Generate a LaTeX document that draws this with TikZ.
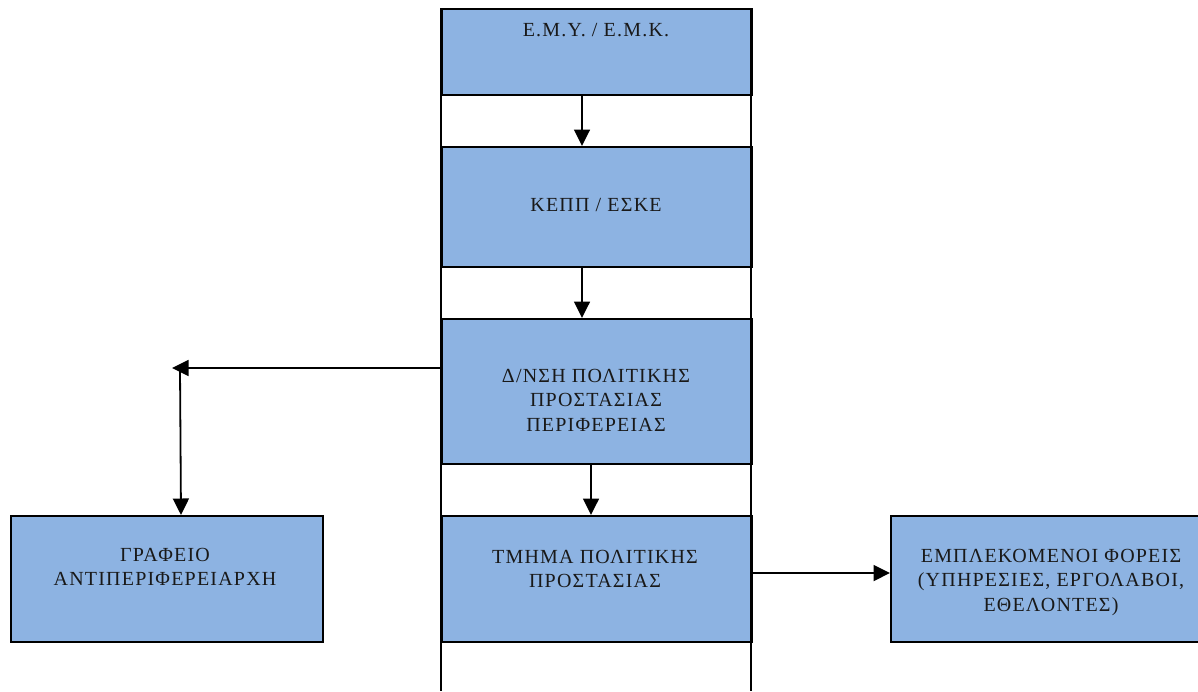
\documentclass[tikz,border=0pt]{standalone}
\usepackage{fontspec}
\setmainfont{Liberation Serif}[LetterSpace=6]
\usetikzlibrary{arrows.meta}
\definecolor{boxblue}{HTML}{8DB3E2}
\tikzset{
  boxnode/.style={draw=black, line width=2pt, fill=boxblue, inner sep=0pt, anchor=north west},
  txt/.style={align=center, font=\fontsize{20}{24.5}\selectfont, text=black!90, inner sep=0pt},
  conn/.style={line width=1.8pt, -{Triangle[length=16.5pt,width=16pt]}},
  col/.style={line width=2pt}
}
\begin{document}
\begin{tikzpicture}[x=1pt,y=-1pt]
\useasboundingbox (0,0) rectangle (1198,691);
% central column boxes
\node[boxnode, minimum width=310pt, minimum height=86pt]  (emy)   at (441,8)   {};
\node[boxnode, minimum width=310pt, minimum height=120pt] (kepp)  at (441,146) {};
\node[boxnode, minimum width=310pt, minimum height=145pt] (dnsh)  at (441,318) {};
\node[boxnode, minimum width=310pt, minimum height=126pt] (tmhma) at (441,515) {};
% side boxes
\node[boxnode, minimum width=312pt, minimum height=126pt] (grafeio) at (10,515) {};
\node[boxnode, minimum width=330pt, minimum height=126pt] (foreis)  at (890,515) {};
% column side lines
\draw[col] (441,8) -- (441,691);
\draw[col] (751,8) -- (751,691);
% texts
\node[txt] (t1) at (596,30)  {Ε.Μ.Υ. / Ε.Μ.Κ.};
\node[txt] (t2) at (596,205) {ΚΕΠΠ / ΕΣΚΕ};
\node[txt] (t3) at (596,400) {Δ/ΝΣΗ ΠΟΛΙΤΙΚΗΣ\\ΠΡΟΣΤΑΣΙΑΣ\\ΠΕΡΙΦΕΡΕΙΑΣ};
\node[txt] (t4) at (595,569) {ΤΜΗΜΑ ΠΟΛΙΤΙΚΗΣ\\ΠΡΟΣΤΑΣΙΑΣ};
\node[txt] (t5) at (165,567) {ΓΡΑΦΕΙΟ\\ΑΝΤΙΠΕΡΙΦΕΡΕΙΑΡΧΗ};
\node[txt] (t6) at (1051,582) {ΕΜΠΛΕΚΟΜΕΝΟΙ ΦΟΡΕΙΣ\\(ΥΠΗΡΕΣΙΕΣ, ΕΡΓΟΛΑΒΟΙ,\\ΕΘΕΛΟΝΤΕΣ)};
% connectors
\coordinate (corner) at (172,368);
\coordinate (cornerb) at (180,369);
\draw[conn] (emy.south -| 582,0) -- (kepp.north -| 582,0);
\draw[conn] (kepp.south -| 582,0) -- (dnsh.north -| 582,0);
\draw[conn] (dnsh.south -| 591,0) -- (tmhma.north -| 591,0);
\draw[conn, line width=1.5pt] (dnsh.west |- corner) -- (corner);
\draw[conn] (cornerb) -- (grafeio.north -| 181,0);
\draw[conn] (tmhma.east |- 0,573) -- (foreis.west |- 0,573);
\end{tikzpicture}
\end{document}
